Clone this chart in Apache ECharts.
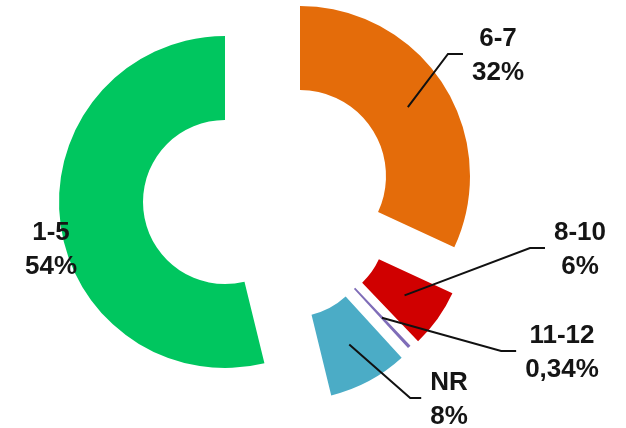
<!DOCTYPE html>
<html>
<head>
<meta charset="utf-8">
<script src="https://cdn.jsdelivr.net/npm/echarts@6/dist/echarts.min.js"></script>
<style>
html,body{margin:0;padding:0;background:#fff;}
#chart{width:626px;height:428px;}
</style>
</head>
<body>
<div id="chart"></div>
<script>
// ---- data ----
const categories = ['6-7', '8-10', '11-12', 'NR', '1-5'];
const values = [32, 6, 0.34, 8, 54];
const colors = ['#E46C0A', '#D00000', '#7F6DB8', '#4BACC6', '#00C65F'];

// ---- layout (positions / sizes only) ----
const sliceLayout = [
  { center: [300, 176], radius: [86, 170] },
  { center: [309, 227], radius: [77, 158] },
  { center: [300, 230], radius: [80, 160] },
  { center: [293, 239], radius: [78, 161] },
  { center: [225, 202], radius: [82, 166] }
];
const labelLayoutCfg = [
  { x: 498, y: 56, line: true, seg: 15 },
  { x: 580, y: 250, line: true, seg: 15 },
  { x: 562, y: 353, line: true, seg: 15 },
  { x: 449, y: 400, line: true, seg: 11 },
  { x: 51, y: 250, line: false, seg: 0 }
];

function fmtValue(v) { return String(v).replace('.', ',') + '%'; }

const chart = echarts.init(document.getElementById('chart'), null, { renderer: 'canvas' });

const common = {
  type: 'pie',
  silent: true,
  animation: false,
  startAngle: 90,
  clockwise: true,
  avoidLabelOverlap: false,
  emphasis: { disabled: true },
  itemStyle: { borderWidth: 0 }
};

// coloured slices (one visible slice per series, angles from the full data)
const sliceSeries = categories.map((name, k) => Object.assign({}, common, {
  z: 2,
  center: sliceLayout[k].center,
  radius: sliceLayout[k].radius,
  label: { show: false },
  labelLine: { show: false },
  data: categories.map((n, i) => ({
    name: n,
    value: values[i],
    itemStyle: { color: i === k ? colors[i] : 'rgba(0,0,0,0)', borderWidth: 0 }
  }))
}));

// label overlay series (transparent, radius to mid-ring so the leader starts inside the slice)
const labelSeries = categories.map((name, k) => {
  const lay = sliceLayout[k];
  const lab = labelLayoutCfg[k];
  const rMid = (lay.radius[0] + lay.radius[1]) / 2;
  return Object.assign({}, common, {
    z: 5,
    center: lay.center,
    radius: [0, rMid],
    label: {
      position: 'outside',
      formatter: p => p.name + '\n' + fmtValue(p.value),
      fontFamily: 'Liberation Sans, Arial, sans-serif',
      fontWeight: 'bold',
      fontSize: 26,
      lineHeight: 34,
      color: '#151515',
      align: 'center'
    },
    labelLine: {
      length: 10,
      length2: 10,
      lineStyle: { color: '#111', width: 2 }
    },
    labelLayout: function (params) {
      const res = { x: lab.x, y: lab.y, align: 'center', verticalAlign: 'middle' };
      if (lab.line && params.labelLinePoints && params.labelLinePoints.length) {
        const start = params.labelLinePoints[0];
        const w = params.labelRect.width;
        const endX = lab.x - w / 2 - 9;
        res.labelLinePoints = [start, [endX - lab.seg, lab.y - 2], [endX, lab.y - 2]];
      }
      return res;
    },
    data: categories.map((n, i) => ({
      name: n,
      value: values[i],
      itemStyle: { color: 'rgba(0,0,0,0)', borderWidth: 0 },
      label: { show: i === k },
      labelLine: { show: i === k && lab.line }
    }))
  });
});

chart.setOption({
  backgroundColor: '#ffffff',
  animation: false,
  series: sliceSeries.concat(labelSeries)
});
</script>
</body>
</html>
